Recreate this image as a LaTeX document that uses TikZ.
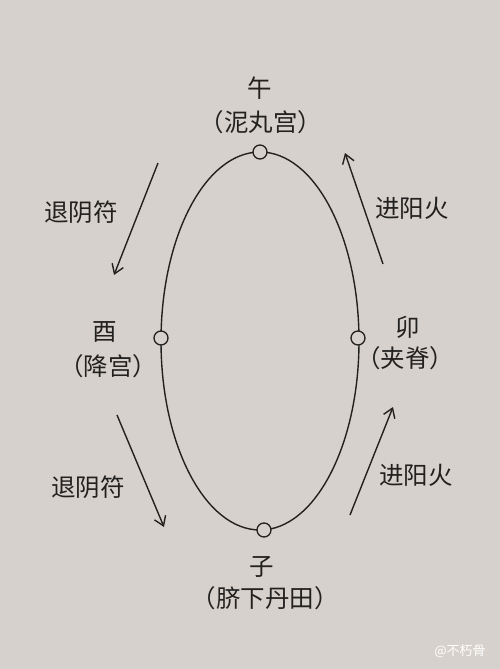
\documentclass[tikz,border=0pt]{standalone}
\usepackage{fontspec}
\newfontfamily\cjk{Noto Sans CJK SC}
\definecolor{paper}{RGB}{214,209,204}
\definecolor{ink}{RGB}{35,33,32}
\begin{document}
\begin{tikzpicture}[x=1pt,y=-1pt,
  lbl/.style={font=\cjk\fontsize{24.5}{28}\selectfont,text=ink,inner sep=0pt},
  dot/.style={circle,draw=ink,fill=paper,line width=1.3pt,minimum size=14pt,inner sep=0pt},
  arr/.style={draw=ink,line width=1.4pt,-{Straight Barb[length=9pt,width=12pt]}}]
\usetikzlibrary{arrows.meta}
\fill[paper] (0,0) rectangle (500,669);
\useasboundingbox (0,0) rectangle (500,669);
% ellipse
\draw[ink,line width=1.4pt] (260,341) ellipse [x radius=99, y radius=189];
\node[dot] (top) at (260,152) {};
\node[dot] (bot) at (264,530) {};
\node[dot] (left) at (161,338) {};
\node[dot] (right) at (358,338) {};
% labels
\node[lbl] (wu) at (260,88) {午};
\node[lbl] (wup) at (261,122) {（泥丸宫）};
\node[lbl] (you) at (105,332) {酉};
\node[lbl] (youp) at (108,366) {（降宫）};
\node[lbl] (mao) at (408,327) {卯};
\node[lbl] (maop) at (405,358) {（夹脊）};
\node[lbl] (zi) at (262,567) {子};
\node[lbl] (zip) at (265,598) {（脐下丹田）};
\node[lbl] (t1) at (81,212) {退阴符};
\node[lbl] (t2) at (88,487) {退阴符};
\node[lbl] (j1) at (412,208) {进阳火};
\node[lbl] (j2) at (416,475) {进阳火};
% arrows
\coordinate (a1s) at (158,163); \coordinate (a1e) at (114,275);
\coordinate (a2s) at (383,264); \coordinate (a2e) at (345,153);
\coordinate (a3s) at (117,415); \coordinate (a3e) at (164,527);
\coordinate (a4s) at (350,515); \coordinate (a4e) at (393,407);
\draw[arr] (a1s) -- (a1e);
\draw[arr] (a2s) -- (a2e);
\draw[arr] (a3s) -- (a3e);
\draw[arr] (a4s) -- (a4e);
% watermark
\node[font=\cjk\fontsize{13}{15}\selectfont,text=white,inner sep=0pt] (wm) at (460,651) {@不朽骨};
\end{tikzpicture}
\end{document}
